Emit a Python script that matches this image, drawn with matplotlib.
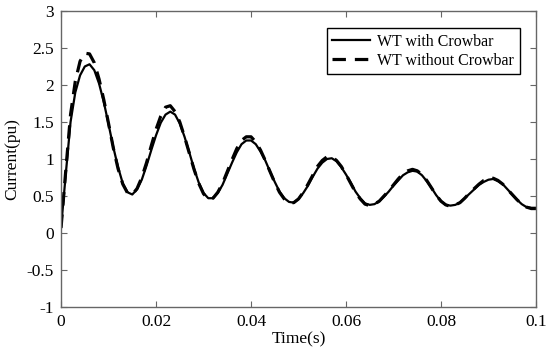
import matplotlib as mpl
mpl.use('Agg')
import matplotlib.pyplot as plt
import numpy as np

# sample times (s), 1 ms apart
time = np.linspace(0, 0.1, 101)

with_crowbar = [
    0.07, 0.80, 1.50, 1.90, 2.13, 2.25, 2.28, 2.20, 2.02, 1.77,
    1.47, 1.16, 0.89, 0.67, 0.55, 0.52, 0.59, 0.72, 0.91, 1.12,
    1.32, 1.49, 1.60, 1.64, 1.60, 1.48, 1.30, 1.09, 0.87, 0.68,
    0.54, 0.47, 0.47, 0.54, 0.65, 0.80, 0.95, 1.09, 1.20, 1.25,
    1.25, 1.20, 1.10, 0.98, 0.83, 0.69, 0.56, 0.47, 0.42, 0.41,
    0.46, 0.54, 0.64, 0.76, 0.87, 0.95, 1.00, 1.01, 0.97, 0.89,
    0.79, 0.68, 0.56, 0.47, 0.40, 0.38, 0.39, 0.43, 0.49, 0.56,
    0.64, 0.71, 0.78, 0.82, 0.84, 0.83, 0.78, 0.70, 0.61, 0.51,
    0.43, 0.38, 0.37, 0.38, 0.41, 0.47, 0.53, 0.59, 0.65, 0.69,
    0.72, 0.73, 0.70, 0.66, 0.59, 0.52, 0.45, 0.39, 0.35, 0.34,
    0.34,
]

without_crowbar = [
    0.07, 0.85, 1.60, 2.05, 2.32, 2.43, 2.42, 2.30, 2.08, 1.80,
    1.48, 1.15, 0.87, 0.66, 0.54, 0.52, 0.60, 0.75, 0.95, 1.18,
    1.40, 1.58, 1.70, 1.72, 1.64, 1.50, 1.30, 1.08, 0.86, 0.67,
    0.53, 0.46, 0.47, 0.55, 0.67, 0.83, 0.99, 1.14, 1.25, 1.30,
    1.30, 1.23, 1.12, 0.98, 0.83, 0.68, 0.55, 0.46, 0.41, 0.41,
    0.46, 0.55, 0.66, 0.78, 0.90, 0.98, 1.03, 1.03, 0.98, 0.90,
    0.79, 0.67, 0.55, 0.46, 0.39, 0.37, 0.39, 0.43, 0.50, 0.57,
    0.65, 0.73, 0.80, 0.84, 0.86, 0.84, 0.79, 0.71, 0.61, 0.51,
    0.43, 0.38, 0.36, 0.38, 0.41, 0.47, 0.54, 0.60, 0.66, 0.71,
    0.73, 0.74, 0.71, 0.66, 0.59, 0.52, 0.45, 0.39, 0.35, 0.33,
    0.33,
]

xticks = [0, 0.02, 0.04, 0.06, 0.08, 0.1]
xticklabels = ['0', '0.02', '0.04', '0.06', '0.08', '0.1']
yticks = [-1, -0.5, 0, 0.5, 1, 1.5, 2, 2.5, 3]
yticklabels = ['-1', '-0.5', '0', '0.5', '1', '1.5', '2', '2.5', '3']

plt.rcParams['font.family'] = ['Liberation Serif', 'DejaVu Serif']
plt.rcParams['font.size'] = 12.5

fig = plt.figure(figsize=(5.5, 3.58), dpi=100)
ax = fig.add_axes([0.111, 0.1425, 0.8635, 0.8268])

ax.plot(time, with_crowbar, color='black', lw=1.6, label='WT with Crowbar')
ax.plot(time, without_crowbar, color='black', lw=2.3, dashes=(4.2, 2.8),
        label='WT without Crowbar')

ax.set_xlim(0, 0.1)
ax.set_ylim(-1, 3)
ax.set_xticks(xticks)
ax.set_xticklabels(xticklabels)
ax.set_yticks(yticks)
ax.set_yticklabels(yticklabels)
ax.set_xlabel('Time(s)', labelpad=1)
ax.set_ylabel('Current(pu)', labelpad=5)

axcol = '0.4'
for sp in ax.spines.values():
    sp.set_color(axcol)
    sp.set_linewidth(1.0)
ax.tick_params(direction='in', top=True, right=True, length=4,
               color=axcol, labelcolor='black', pad=5)

leg = ax.legend(loc='upper right', bbox_to_anchor=(0.966, 0.942),
                fancybox=False, framealpha=1, edgecolor='black',
                fontsize=11.4, borderpad=0.35, handlelength=2.4,
                handletextpad=0.45, labelspacing=0.2, borderaxespad=0)
leg.get_frame().set_linewidth(1.0)

plt.savefig('out.png', dpi=100)
